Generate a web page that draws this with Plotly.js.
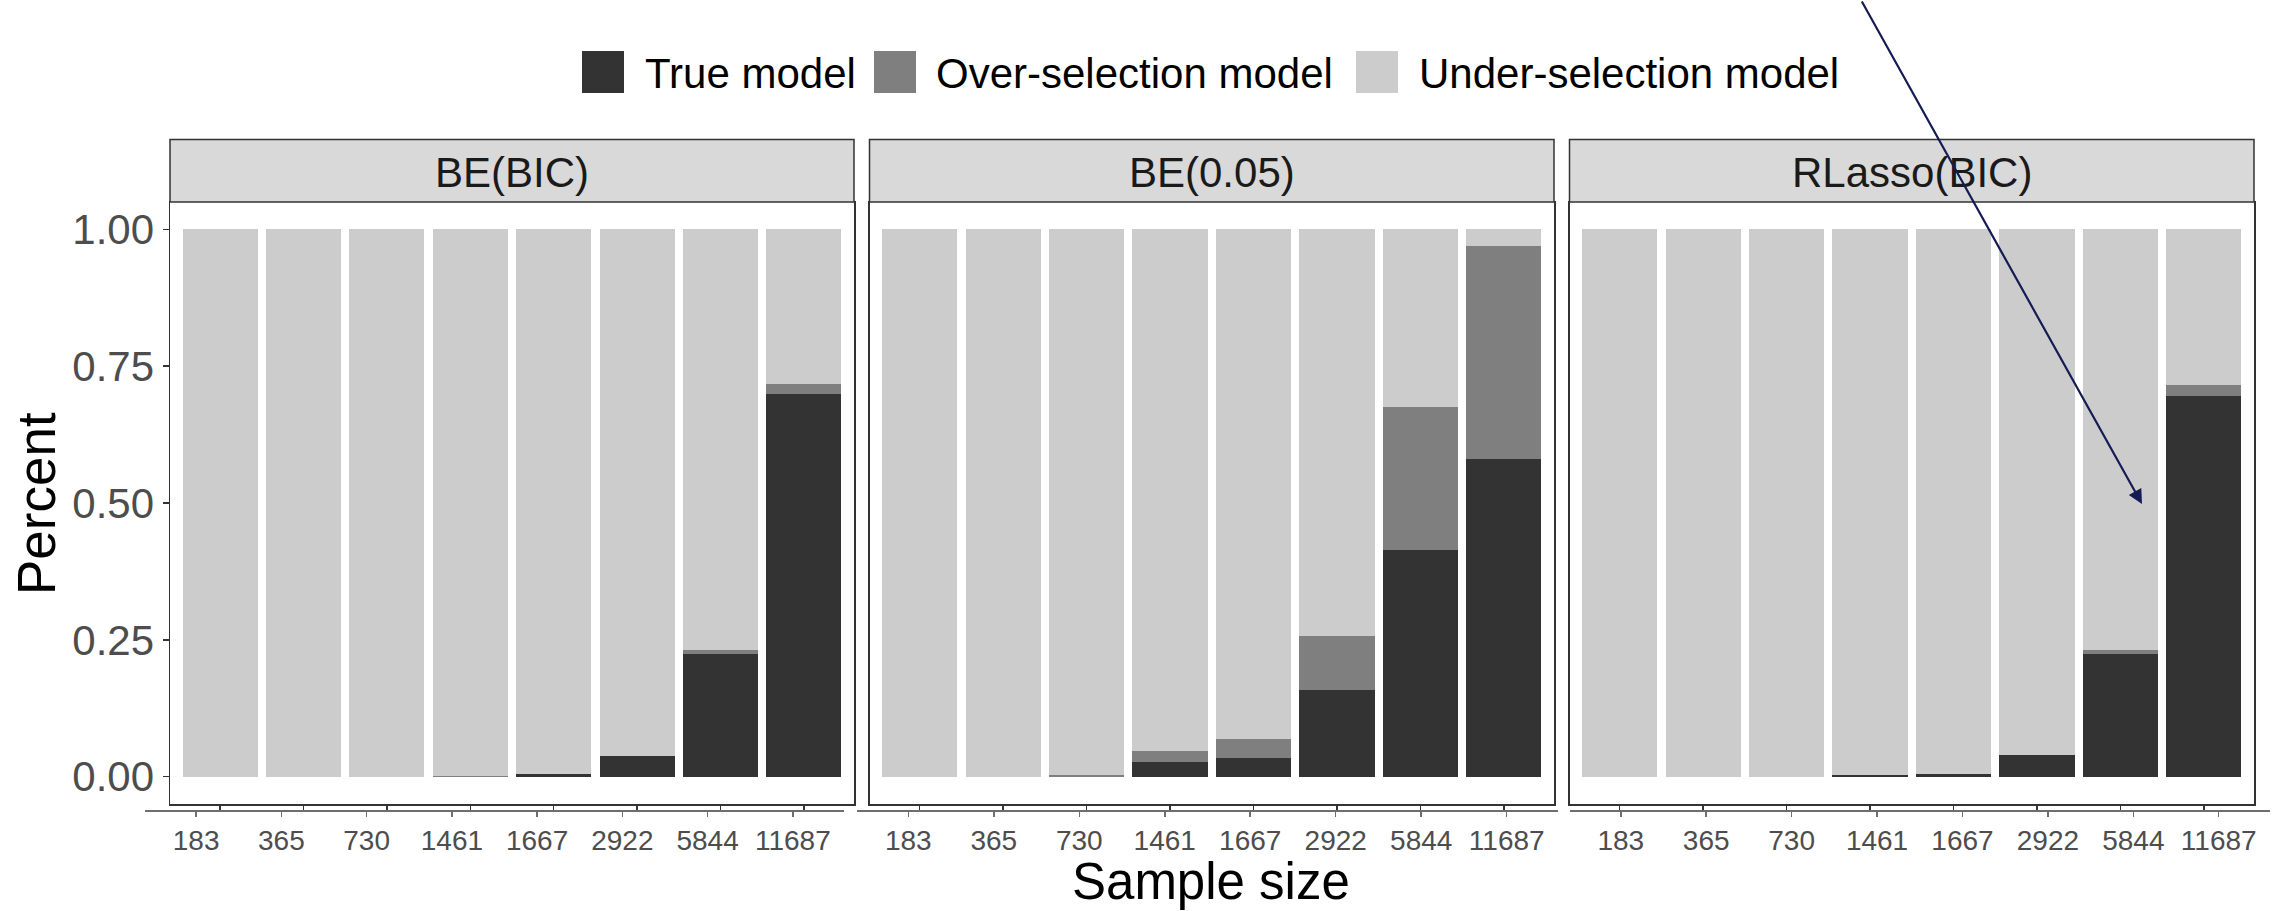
<!DOCTYPE html>
<html>
<head>
<meta charset="utf-8">
<script src="https://cdn.plot.ly/plotly-3.0.1.min.js"></script>
<style>
  html, body { margin: 0; padding: 0; background: #fff; }
  #chart { width: 2277px; height: 911px; }
</style>
</head>
<body>
<div id="chart"></div>
<script>
// Sample sizes (x categories)
const sampleSizes = ['183', '365', '730', '1461', '1667', '2922', '5844', '11687'];

// Selection methods (facets)
const methods = ['BE(BIC)', 'BE(0.05)', 'RLasso(BIC)'];

// Outcome categories, stacked bottom to top
const outcomes = ['True model', 'Over-selection model', 'Under-selection model'];
const outcomeColors = ['#333333', '#7F7F7F', '#CCCCCC'];

// Proportion of runs per outcome, BE(BIC)
const beBicTrue  = [0, 0, 0, 0,     0.004, 0.037, 0.224, 0.700];
const beBicOver  = [0, 0, 0, 0.002, 0,     0,     0.007, 0.018];
const beBicUnder = [1, 1, 1, 0.998, 0.996, 0.963, 0.769, 0.282];

// BE(0.05)
const be05True  = [0, 0, 0,     0.027, 0.034, 0.159, 0.414, 0.580];
const be05Over  = [0, 0, 0.003, 0.020, 0.035, 0.098, 0.261, 0.390];
const be05Under = [1, 1, 0.997, 0.953, 0.931, 0.743, 0.325, 0.030];

// RLasso(BIC)
const rlassoTrue  = [0, 0, 0, 0.003, 0.005, 0.040, 0.224, 0.696];
const rlassoOver  = [0, 0, 0, 0,     0,     0,     0.008, 0.019];
const rlassoUnder = [1, 1, 1, 0.997, 0.995, 0.960, 0.768, 0.285];

const seriesByMethod = [
  [beBicTrue, beBicOver, beBicUnder],
  [be05True, be05Over, be05Under],
  [rlassoTrue, rlassoOver, rlassoUnder]
];

// ---- page geometry (pixels) ----
const W = 2277, H = 911;
const px = v => v / W;
const py = v => 1 - v / H;
const FONT = 'Liberation Sans, Arial, Helvetica, sans-serif';

const panelTop = 202, panelBottom = 804;
const stripTop = 139.5;
const panels = [
  { x0: 170,   x1: 854,  lx0: 145,    lx1: 844 },
  { x0: 869.5, x1: 1554, lx0: 857,    lx1: 1558 },
  { x0: 1569.5, x1: 2254, lx0: 1569.5, lx1: 2270 }
];
const labelAxisY = 810;

const traces = [];
const layout = {
  width: W, height: H,
  margin: { l: 0, r: 0, t: 0, b: 0 },
  paper_bgcolor: '#ffffff',
  plot_bgcolor: 'rgba(0,0,0,0)',
  barmode: 'stack',
  bargap: 0.1,
  showlegend: false,
  font: { family: FONT, color: '#000' },
  shapes: [],
  annotations: []
};

panels.forEach((p, i) => {
  const n = i + 1;
  const xa = n === 1 ? 'x' : 'x' + n;
  const ya = n === 1 ? 'y' : 'y' + n;
  const xKey = n === 1 ? 'xaxis' : 'xaxis' + n;
  const yKey = n === 1 ? 'yaxis' : 'yaxis' + n;

  // stacked bars
  outcomes.forEach((name, k) => {
    traces.push({
      type: 'bar',
      name: name,
      x: sampleSizes,
      y: seriesByMethod[i][k],
      xaxis: xa, yaxis: ya,
      marker: { color: outcomeColors[k], line: { width: 0 } },
      hoverinfo: 'x+y+name'
    });
  });

  // panel x axis: bar positions, ticks on the border
  layout[xKey] = {
    domain: [px(p.x0), px(p.x1)],
    anchor: ya,
    type: 'category',
    categoryarray: sampleSizes,
    range: [-0.6, sampleSizes.length - 0.4],
    showline: true, mirror: true,
    linecolor: '#333333', linewidth: 1.5,
    ticks: 'outside', ticklen: 4, tickwidth: 1.5, tickcolor: '#333333',
    showticklabels: false,
    showgrid: false, zeroline: false, fixedrange: true
  };

  layout[yKey] = {
    domain: [py(panelBottom), py(panelTop)],
    anchor: xa,
    range: [-0.05, 1.05],
    tickvals: [0, 0.25, 0.5, 0.75, 1],
    ticktext: ['0.00', '0.25', '0.50', '0.75', '1.00'],
    showline: true, mirror: true,
    linecolor: '#333333', linewidth: 1.5,
    ticks: n === 1 ? 'outside' : '', ticklen: 6, tickwidth: 1.5, tickcolor: '#333333',
    showticklabels: n === 1,
    ticklabelstandoff: 0,
    tickfont: { family: FONT, size: 42, color: '#4D4D4D' },
    showgrid: false, zeroline: false, fixedrange: true
  };

  // labelled sample-size axis below the panel
  const lxKey = 'xaxis' + (n + 3);
  const lxa = 'x' + (n + 3);
  layout[lxKey] = {
    domain: [px(p.lx0), px(p.lx1)],
    anchor: 'free',
    position: py(labelAxisY),
    range: [-0.6, sampleSizes.length - 0.4],
    tickvals: sampleSizes.map((_, j) => j),
    ticktext: sampleSizes,
    showline: true, linecolor: '#6E6E6E', linewidth: 1.5,
    ticks: 'outside', ticklen: 5, tickwidth: 1.5, tickcolor: '#6E6E6E',
    tickfont: { family: FONT, size: 28, color: '#4D4D4D' },
    showgrid: false, zeroline: false, fixedrange: true
  };
  traces.push({
    type: 'scatter', mode: 'markers', x: [], y: [],
    xaxis: lxa, yaxis: ya, hoverinfo: 'skip', showlegend: false
  });

  // facet strip
  layout.shapes.push({
    type: 'rect', xref: 'paper', yref: 'paper',
    x0: px(p.x0), x1: px(p.x1), y0: py(panelTop), y1: py(stripTop),
    fillcolor: '#D9D9D9', line: { color: '#333333', width: 1.5 }
  });
  layout.annotations.push({
    xref: 'paper', yref: 'paper',
    x: px((p.x0 + p.x1) / 2), y: py(172),
    xanchor: 'center', yanchor: 'middle',
    text: methods[i], showarrow: false,
    font: { family: FONT, size: 42, color: '#1A1A1A' }
  });
});

// legend row
const legendKeys = [
  { kx: 582,  tx: 643 },
  { kx: 874,  tx: 934 },
  { kx: 1356, tx: 1417 }
];
outcomes.forEach((name, k) => {
  const lk = legendKeys[k];
  layout.shapes.push({
    type: 'rect', xref: 'paper', yref: 'paper',
    x0: px(lk.kx), x1: px(lk.kx + 42), y0: py(93), y1: py(51),
    fillcolor: outcomeColors[k], line: { width: 0 }
  });
  layout.annotations.push({
    xref: 'paper', yref: 'paper',
    x: px(lk.tx), y: py(73),
    xanchor: 'left', yanchor: 'middle',
    text: name, showarrow: false,
    font: { family: FONT, size: 42, color: '#000000' }
  });
});

// axis titles
layout.annotations.push({
  xref: 'paper', yref: 'paper',
  x: px(36), y: py(504),
  xanchor: 'center', yanchor: 'middle', textangle: -90,
  text: 'Percent', showarrow: false,
  font: { family: FONT, size: 53, color: '#000000' }
});
layout.annotations.push({
  xref: 'paper', yref: 'paper',
  x: px(1211), y: py(881),
  xanchor: 'center', yanchor: 'middle',
  text: 'Sample size', showarrow: false,
  font: { family: FONT, size: 51, color: '#000000' }
});

// pointer arrow
layout.annotations.push({
  xref: 'paper', yref: 'paper',
  x: px(2142), y: py(504),
  axref: 'pixel', ayref: 'pixel',
  ax: -281, ay: -515,
  text: '', showarrow: true,
  arrowhead: 2, arrowsize: 1.3, arrowwidth: 2.2,
  arrowcolor: '#151B54'
});

Plotly.newPlot('chart', traces, layout, { staticPlot: true, displayModeBar: false });
</script>
</body>
</html>
